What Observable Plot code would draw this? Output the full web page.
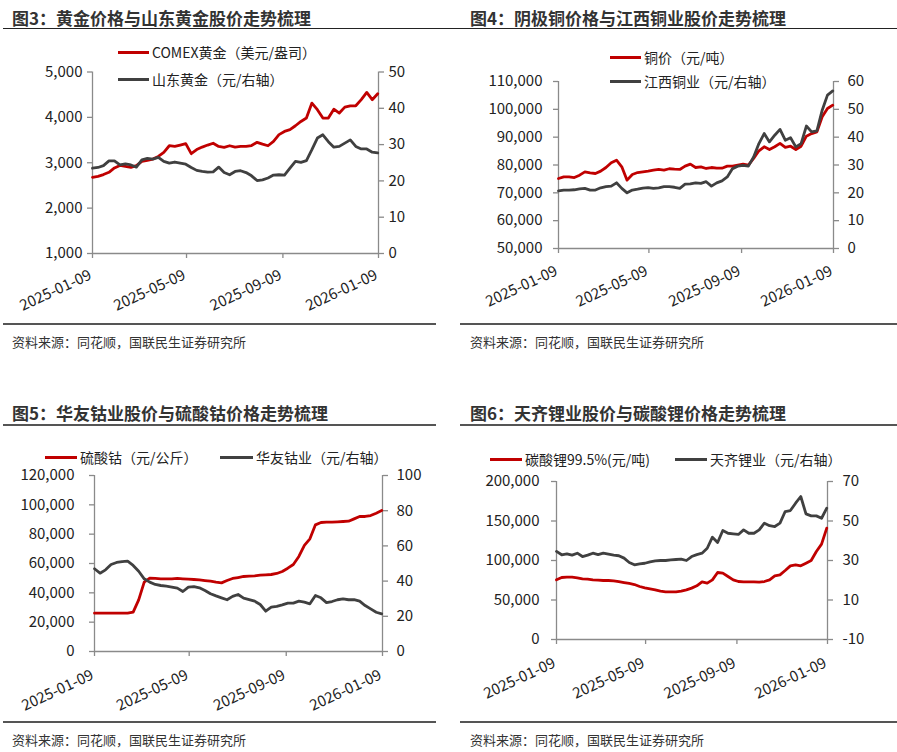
<!DOCTYPE html>
<html><head><meta charset="utf-8">
<script src="https://cdn.jsdelivr.net/npm/d3@7"></script>
<script src="https://cdn.jsdelivr.net/npm/@observablehq/plot@0.6"></script>
<style>
body{margin:0;background:#fff;}
#page{position:relative;width:897px;height:752px;overflow:hidden;font-family:"Noto Sans CJK SC","Noto Sans",sans-serif;color:#222;}
.abs{position:absolute;white-space:nowrap;}
.title{font-size:17px;font-weight:bold;color:#333;line-height:22px;}
.src{font-size:13px;color:#333;line-height:16px;}
.leg{font-size:14px;line-height:18px;color:#222;}
.hl{position:absolute;}
.wrap{position:absolute;}
.wrap svg{overflow:visible;}
</style></head><body><div id="page"></div>
<script>
// ---------- data ----------
const dates = ["2025-01-09","2025-01-16","2025-01-23","2025-01-30","2025-02-06","2025-02-13","2025-02-20","2025-02-27",
"2025-03-06","2025-03-13","2025-03-20","2025-03-27","2025-04-03","2025-04-10","2025-04-17","2025-04-24",
"2025-05-01","2025-05-08","2025-05-15","2025-05-22","2025-05-29","2025-06-05","2025-06-12","2025-06-19","2025-06-26",
"2025-07-03","2025-07-10","2025-07-17","2025-07-24","2025-07-31","2025-08-07","2025-08-14","2025-08-21","2025-08-28",
"2025-09-04","2025-09-11","2025-09-18","2025-09-25","2025-10-02","2025-10-09","2025-10-16","2025-10-23","2025-10-30",
"2025-11-06","2025-11-13","2025-11-20","2025-11-27","2025-12-04","2025-12-11","2025-12-18","2025-12-25","2026-01-01","2026-01-08"];

const xTickLabels = ["2025-01-09","2025-05-09","2025-09-09","2026-01-09"];

// 图3
const comexGold = [2678,2700,2740,2790,2885,2940,2920,2900,2935,3030,3050,3080,3140,3230,3375,3360,3390,3420,3200,3290,3345,3390,3430,3360,3340,3375,3345,3360,3360,3380,3450,3410,3375,3470,3620,3690,3730,3815,3910,3985,4315,4170,3985,3985,4180,4095,4225,4255,4255,4390,4550,4390,4520];
const sdGold = [23.5,23.7,24.2,25.5,25.5,24.4,24.7,24.4,23.8,25.8,26.2,26.0,26.5,25.4,24.9,25.2,24.9,24.6,23.7,22.9,22.6,22.4,22.5,23.8,22.3,21.7,22.6,22.8,22.3,21.4,20.1,20.3,20.8,21.6,21.7,21.6,23.5,25.4,25.1,25.6,28.6,31.8,32.7,30.8,29.3,29.5,30.4,31.3,29.5,28.8,28.8,27.9,27.7];
const p1LeftTicks = [1000,2000,3000,4000,5000];
const p1RightTicks = [0,10,20,30,40,50];

// 图4
const copper = [75150,75750,75750,75500,76350,77550,77200,76950,77800,79100,80800,81750,79350,74550,76600,77300,77550,77800,78150,78400,78150,78650,78500,78400,79600,80300,79100,79350,78750,79100,78850,78850,79600,79600,79950,80300,79950,82350,85100,86550,85550,86550,87750,86300,86750,85550,86750,90350,91300,91900,97300,100300,101500];
const jxCopper = [20.7,21.0,21.0,21.1,21.4,21.6,21.0,21.0,21.8,22.2,22.4,23.6,21.6,20.0,21.0,21.3,21.7,21.9,21.6,21.8,22.2,22.2,22.0,21.6,23.1,23.2,23.6,23.4,24.0,22.4,23.6,24.3,25.7,28.7,29.6,29.9,29.6,32.9,37.7,41.3,38.3,40.7,42.8,38.9,39.8,36.5,37.7,44.0,41.9,42.3,49.7,55.1,56.6];
const p2LeftTicks = [50000,60000,70000,80000,90000,100000,110000];
const p2RightTicks = [0,10,20,30,40,50,60];

// 图5
const cobaltSulfate = [26100,26100,26100,26100,26100,26100,26100,26800,35200,47300,50000,49800,49550,49550,49550,49800,49550,49300,49100,48900,48400,47950,47300,46800,48400,49800,50450,51150,51350,51600,52050,52250,52500,53200,54550,56800,59300,64800,72300,76800,86350,87950,88200,88200,88400,88650,88850,90450,92050,92050,92700,94300,96150];
const huayou = [47.0,44.5,46.4,49.4,50.6,51.1,51.3,48.9,45.6,41.3,39.4,38.1,37.5,37.1,36.6,36.0,34.1,36.6,36.9,36.2,34.7,32.8,31.6,30.5,29.4,31.3,32.4,30.3,29.5,28.6,26.7,22.9,25.2,25.6,26.5,27.5,27.5,28.6,28.0,27.1,31.8,30.5,27.8,28.4,29.4,29.9,29.4,29.5,28.6,26.1,24.2,22.3,21.4];
const p3LeftTicks = [0,20000,40000,60000,80000,100000,120000];
const p3RightTicks = [0,20,40,60,80,100];

// 图6
const lithiumCarb = [75550,78500,78900,78900,78050,76800,76350,75550,75100,74700,74700,74250,73400,72150,70900,69600,67100,65400,64150,62850,61200,60350,60350,60350,61200,62850,65000,67950,73000,71300,75550,84800,83950,79750,75550,73400,73000,73000,73000,72550,73400,75550,80600,81850,87350,93250,94500,93250,96600,100000,111400,120700,140900];
const tianqi = [34.6,32.9,33.4,32.7,33.7,32.0,32.7,33.7,33.0,33.7,33.2,32.7,32.4,31.2,29.0,27.8,28.3,28.6,29.3,29.8,30.0,30.0,30.3,30.5,30.7,30.0,32.0,33.0,33.7,36.2,41.8,39.1,45.2,43.8,43.5,43.2,45.5,43.8,43.8,45.5,48.9,47.6,47.2,48.9,54.8,55.3,59.0,62.4,53.6,52.6,52.6,51.4,56.5];
const p4LeftTicks = [0,50000,100000,150000,200000];
const p4RightTicks = [-10,10,30,50,70];

// ---------- helpers ----------
const RED = "#C00000", DARK = "#404040", AXIS = "#8a8a8a", TXT = "#222";
const page = document.getElementById("page");
const parse = d3.utcParse("%Y-%m-%d");
const fmtDate = d3.utcFormat("%Y-%m-%d");

function addText(txt, cls, x, yc){
  const d = document.createElement("div");
  d.className = "abs " + cls; d.textContent = txt;
  d.style.left = x + "px"; d.style.top = yc + "px"; d.style.transform = "translateY(-50%)";
  page.appendChild(d);
}
function addLine(x1, x2, y, h, color){
  const d = document.createElement("div");
  d.className = "hl";
  Object.assign(d.style, {left: x1 + "px", width: (x2 - x1) + "px", top: (y - h / 2) + "px", height: h + "px", background: color});
  page.appendChild(d);
}
function legendItem(x1, x2, y, color, label){
  addLine(x1, x2, y, 3, color);
  addText(label, "leg", x2 + 3, y);
}

function panel(c){
  const {svgL, svgT, W, H, L, R, T, B, lDom, lTicks, rDom, rTicks, left, right, lPad, rPad, xdx, xdy} = c;
  const toL = v => lDom[0] + (v - rDom[0]) / (rDom[1] - rDom[0]) * (lDom[1] - lDom[0]);
  const fromL = v => rDom[0] + (v - lDom[0]) / (lDom[1] - lDom[0]) * (rDom[1] - rDom[0]);
  const xTicks = xTickLabels.map(parse);
  const rows = dates.map((d, i) => ({date: parse(d), l: left[i], r: toL(right[i])}));
  const chart = Plot.plot({
    width: W, height: H,
    marginLeft: L - svgL, marginRight: svgL + W - R, marginTop: T - svgT, marginBottom: svgT + H - B,
    x: {type: "utc", domain: [xTicks[0], xTicks[xTicks.length - 1]]},
    y: {domain: lDom},
    style: {fontFamily: "'Noto Sans CJK SC','Noto Sans',sans-serif", fontSize: "15px", color: TXT, background: "transparent", overflow: "visible"},
    marks: [
      Plot.axisY(lTicks, {anchor: "left", tickSize: 5, tickPadding: lPad, tickFormat: d3.format(","), stroke: AXIS, strokeWidth: 1.3, fill: TXT, fontSize: 15, label: null}),
      Plot.axisY(rTicks.map(toL), {anchor: "right", tickSize: 5, tickPadding: rPad, tickFormat: d => String(Math.round(fromL(d))), stroke: AXIS, strokeWidth: 1.3, fill: TXT, fontSize: 15, label: null}),
      Plot.axisX(xTicks, {anchor: "bottom", tickSize: 5, tickFormat: () => "", stroke: AXIS, strokeWidth: 1.3, label: null}),
      Plot.text(xTicks, {x: d => d, frameAnchor: "bottom", text: d => fmtDate(d), rotate: -25, textAnchor: "end", dx: xdx, dy: xdy, fontSize: 15, fill: TXT}),
      Plot.ruleY([lDom[0]], {stroke: AXIS, strokeWidth: 1.3}),
      Plot.ruleX([xTicks[0]], {stroke: AXIS, strokeWidth: 1.3}),
      Plot.ruleX([xTicks[xTicks.length - 1]], {stroke: AXIS, strokeWidth: 1.3}),
      Plot.line(rows, {x: "date", y: "l", stroke: RED, strokeWidth: 2.8}),
      Plot.line(rows, {x: "date", y: "r", stroke: DARK, strokeWidth: 2.8})
    ]
  });
  const w = document.createElement("div");
  w.className = "wrap";
  w.style.left = svgL + "px"; w.style.top = svgT + "px";
  w.appendChild(chart);
  page.appendChild(w);
}

// ---------- panels ----------
panel({svgL: 0, svgT: 55, W: 450, H: 265, L: 92, R: 378, T: 71.5, B: 253,
  lDom: [1000, 5000], lTicks: p1LeftTicks, rDom: [0, 50], rTicks: p1RightTicks,
  left: comexGold, right: sdGold, lPad: 5, rPad: 5, xdx: 0, xdy: 25});
panel({svgL: 450, svgT: 65, W: 447, H: 255, L: 558, R: 833, T: 81, B: 248,
  lDom: [50000, 110000], lTicks: p2LeftTicks, rDom: [0, 60], rTicks: p2RightTicks,
  left: copper, right: jxCopper, lPad: 11, rPad: 9, xdx: 0, xdy: 26});
panel({svgL: 0, svgT: 460, W: 450, H: 255, L: 94, R: 382, T: 475, B: 651,
  lDom: [0, 120000], lTicks: p3LeftTicks, rDom: [0, 100], rTicks: p3RightTicks,
  left: cobaltSulfate, right: huayou, lPad: 15, rPad: 9, xdx: 0, xdy: 27});
panel({svgL: 450, svgT: 466, W: 447, H: 249, L: 556, R: 827, T: 481, B: 639,
  lDom: [0, 200000], lTicks: p4LeftTicks, rDom: [-10, 70], rTicks: p4RightTicks,
  left: lithiumCarb, right: tianqi, lPad: 12, rPad: 10, xdx: 0, xdy: 27});

// ---------- titles, rules, legends, sources ----------
addText("图3：黄金价格与山东黄金股价走势梳理", "title", 12, 18);
addText("图4：阴极铜价格与江西铜业股价走势梳理", "title", 470, 18);
addText("图5：华友钴业股价与硫酸钴价格走势梳理", "title", 12, 413);
addText("图6：天齐锂业股价与碳酸锂价格走势梳理", "title", 470, 413);

addLine(3, 897, 28.5, 1, "#222");
addLine(3, 436, 425, 2, "#555");
addLine(460, 897, 425, 2, "#555");
addLine(3, 436, 324, 2, "#555");
addLine(460, 897, 324, 2, "#555");
addLine(3, 436, 722, 2, "#555");
addLine(460, 897, 722, 2, "#555");

legendItem(118, 149, 52, RED, "COMEX黄金（美元/盎司）");
legendItem(118, 149, 79, DARK, "山东黄金（元/右轴）");
legendItem(610, 641, 57, RED, "铜价（元/吨）");
legendItem(610, 641, 81, DARK, "江西铜业（元/右轴）");
legendItem(45, 77, 457, RED, "硫酸钴（元/公斤）");
legendItem(220, 253, 457, DARK, "华友钴业（元/右轴）");
legendItem(490, 522, 459, RED, "碳酸锂99.5%(元/吨)");
legendItem(675, 707, 459, DARK, "天齐锂业（元/右轴）");

addText("资料来源：同花顺，国联民生证券研究所", "src", 12, 342);
addText("资料来源：同花顺，国联民生证券研究所", "src", 470, 342);
addText("资料来源：同花顺，国联民生证券研究所", "src", 12, 740);
addText("资料来源：同花顺，国联民生证券研究所", "src", 470, 740);
</script></body></html>
